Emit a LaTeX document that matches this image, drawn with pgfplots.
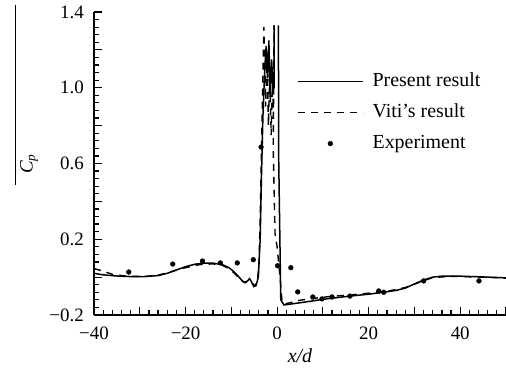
\documentclass[border=0pt]{standalone}
\usepackage{fontspec}
\setmainfont{Liberation Serif}
\usepackage{pgfplots}
\pgfplotsset{compat=1.18}
\begin{document}
\begin{tikzpicture}
\path[use as bounding box] (0,0) rectangle (506bp,369bp);
\begin{axis}[
  at={(94bp,54bp)}, anchor=south west,
  scale only axis, width=412bp, height=303bp,
  xmin=-40, xmax=50, ymin=-0.2, ymax=1.4,
  axis x line=bottom, axis y line=left,
  axis line style={-, line width=1.4bp},
  tick align=inside,
  xtick={-40,-30,...,50}, xticklabels={−40,,−20,,0,,20,,40,},
  ytick={-0.2,0,0.2,0.4,0.6,0.8,1.0,1.2,1.4}, yticklabels={−0.2,,0.2,,0.6,,1.0,,1.4},
  minor x tick num=4, minor y tick num=4,
  major tick length=7.5bp, minor tick length=4.5bp,
  every tick/.style={line width=1.2bp, black},
  ticklabel style={font=\fontsize{19}{22}\selectfont, inner sep=0pt},
  xticklabel style={anchor=center, yshift=-18bp},
  yticklabel style={anchor=east, xshift=-10bp},
  xlabel={\textit{x/d}},
  xlabel style={at={(axis description cs:0.5,0)}, anchor=center, yshift=-41bp, font=\fontsize{20}{24}\selectfont},
  ylabel={\textit{C}\textsubscript{\textit{p}}},
  ylabel style={at={(axis description cs:-0.1578,0.4983)}, anchor=center, font=\fontsize{19}{22}\selectfont},
  legend style={draw=none, fill=none, inner sep=0pt, outer sep=0pt,
    at={(axis description cs:0.4927,0.80)}, anchor=north west,
    font=\fontsize{20}{24}\selectfont, row sep=13bp, column sep=0bp,
    nodes={inner sep=0pt, text height=14bp, text depth=4bp}},
  legend cell align=left,
  unbounded coords=jump,
]
\addplot[black, line width=1.5bp, legend image code/.code={\draw[black, line width=1.7bp] (0bp,0bp) -- (65bp,0bp); \path (74bp,0bp);}] coordinates {
(-40,0.02) (-38,0.012) (-35,0.006) (-32,0.003) (-29,0.003) (-26,0.008) (-24,0.02) (-22,0.038) (-20,0.055) (-18,0.068) (-16,0.074) (-14,0.074) (-12,0.066) (-10.5,0.05) (-9.5,0.03) (-8.5,0.005) (-7.6,-0.02) (-7.0,-0.03) (-6.4,-0.018) (-6.0,-0.008) (-5.6,-0.025) (-5.1,-0.05) (-4.6,-0.045) (-4.1,0.0) (-3.7,0.2) (-3.4,0.55) (-3.1,0.85) (-2.7,1.1) (-2.4,1.22) (-2.1,1.05) (-1.8,1.25) (-1.5,0.95) (-1.2,1.15) (-0.9,1.0) (-0.65,1.0) (-0.65,1.33) (-0.6,nan) (0.28,1.33) (0.35,0.62) (0.8,-0.12) (1.5,-0.147) (3,-0.142) (6,-0.132) (9,-0.121) (12,-0.111) (16,-0.1) (20,-0.09) (23,-0.081) (26,-0.07) (28,-0.058) (30,-0.036) (32,-0.015) (34,0.0) (36,0.005) (40,0.005) (45,0.001) (50,-0.004)
};
\addlegendentry{Present result}
\addplot[black, line width=1.4bp, dash pattern=on 7bp off 6bp, legend image code/.code={\draw[black, line width=1.7bp, dash pattern=on 7bp off 6bp] (0bp,0bp) -- (65bp,0bp); \path (74bp,0bp);}] coordinates {
(-40,0.045) (-38.5,0.035) (-36,0.015) (-33,0.005) (-29,0.003) (-26,0.01) (-23,0.03) (-20,0.05) (-17,0.066) (-14,0.07) (-12,0.063) (-10.5,0.045) (-9.3,0.02) (-8.3,-0.005) (-7.4,-0.025) (-6.7,-0.025) (-6.1,-0.012) (-5.5,-0.03) (-4.9,-0.045) (-4.4,-0.03) (-4.0,0.05) (-3.7,0.3) (-3.4,0.7) (-3.1,1.05) (-2.9,1.32) (-2.7,1.15) (-2.5,0.9) (-2.2,1.2) (-1.9,0.8) (-1.6,1.1) (-1.3,0.75) (-1.0,1.05) (-0.8,0.85) (-0.65,1.33) (-0.85,0.68) (-0.45,0.23) (0,0.16) (0.43,0.053) (0.87,-0.068) (1.1,-0.137) (2,-0.14) (5,-0.122) (8,-0.112) (12,-0.101) (16,-0.094) (20,-0.085) (24,-0.075) (28,-0.055) (31,-0.028) (34,-0.002) (38,0.004) (45,0.0) (50,-0.005)
};
\addlegendentry{Viti’s result}
\addplot[only marks, mark=*, mark size=2.4bp, black, legend image code/.code={\fill[black] (32.5bp,0bp) circle (2.4bp); \path (0bp,0bp) (74bp,0bp);}] coordinates {
(-32.4,0.027) (-22.8,0.069) (-16.3,0.085) (-12.4,0.075) (-8.7,0.075) (-5.2,0.092) (-3.5,0.687) (0.1,0.06) (3.0,0.05) (4.5,-0.078) (7.8,-0.105) (9.8,-0.115) (12,-0.105) (15.9,-0.1) (22.2,-0.073) (23.3,-0.08) (32,-0.02) (44.1,-0.02)
};
\addlegendentry{Experiment}
\end{axis}
\draw[line width=1bp] (15bp,184bp) -- (15bp,364bp);
\end{tikzpicture}
\end{document}
